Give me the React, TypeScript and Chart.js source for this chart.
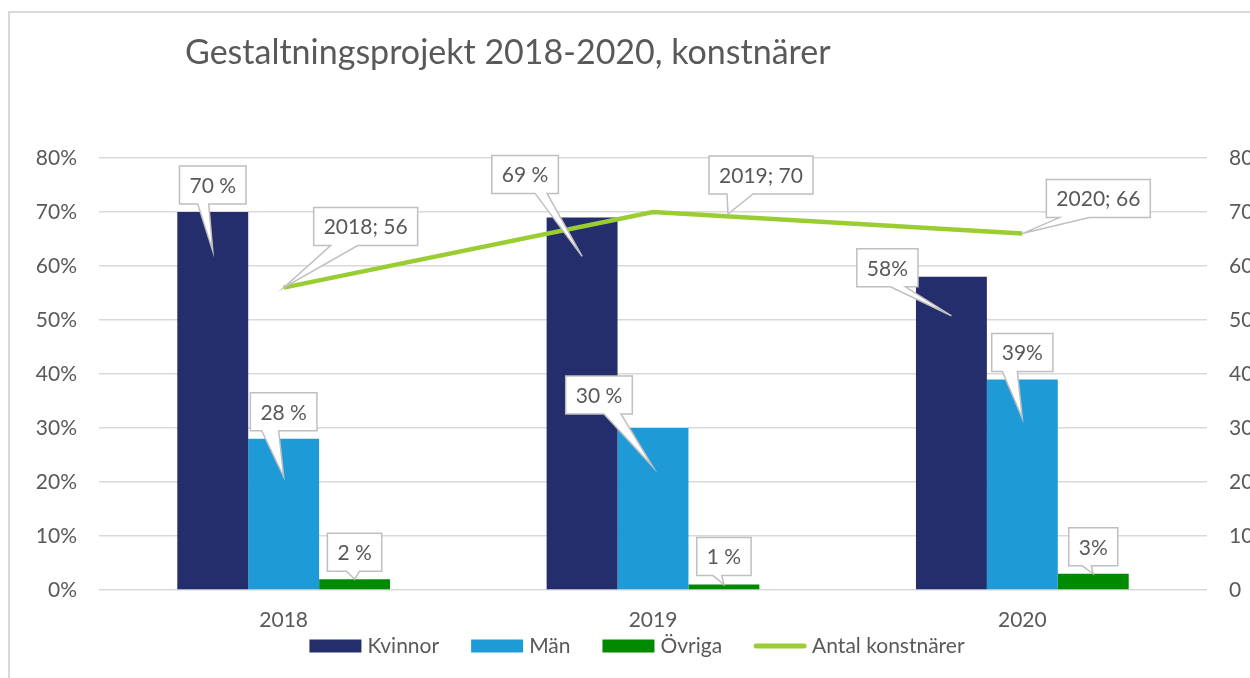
import React, { useEffect, useRef } from "react";
import { Chart, registerables } from "chart.js";

Chart.register(...registerables);

// ---------------- data ----------------
const chartTitle = "Gestaltningsprojekt 2018-2020, konstnärer";
const categories = ["2018", "2019", "2020"];
const seriesLabels = ["Kvinnor", "Män", "Övriga", "Antal konstnärer"];
const kvinnor = [70, 69, 58];
const man = [28, 30, 39];
const ovriga = [2, 1, 3];
const antalKonstnarer = [56, 70, 66];
// separator between number and "%" in the data labels, per category
const percentSeparators = [" ", " ", ""];
const axisMin = 0;
const axisMax = 80;
const axisStep = 10;

// ---------------- styles ----------------
const FONT = "Lato";
const TEXT_COLOR = "#595959";
const GRID_COLOR = "#D9D9D9";
const COLORS = ["#252E6C", "#1E9BD7", "#008A00", "#9ACD32"];
const TICK_SIZE = 21;
const LABEL_SIZE = 21;
const TITLE_SIZE = 34;
const W = 1250;
const H = 678;

// callout layout offsets (pixels) relative to each element's anchor point:
// bx,by = box centre offset; tx,ty = pointer tip offset; wl,wr = wedge base relative to box centre
type Lay = { bx: number; by: number; tx: number; ty: number; wl: number; wr: number };
const calloutLayout: Lay[][] = [
  [
    { bx: 0, by: -27, tx: 0, ty: 39, wl: -15, wr: -4 },
    { bx: -57, by: -43, tx: 0, ty: 39, wl: 10, wr: 22 },
    { bx: -64, by: -9, tx: 0, ty: 39, wl: 3, wr: 18 },
  ],
  [
    { bx: 0, by: -27, tx: 0, ty: 38, wl: -22, wr: -5 },
    { bx: -54, by: -33, tx: 0, ty: 39, wl: 5, wr: 22 },
    { bx: 0, by: -27, tx: 0, ty: 39, wl: -20, wr: -5 },
  ],
  [
    { bx: 0, by: -27, tx: 0, ty: 0, wl: -8, wr: 5 },
    { bx: 0, by: -28, tx: 0, ty: 0, wl: -11, wr: -2 },
    { bx: 0, by: -27, tx: 0, ty: 0, wl: -11, wr: -2 },
  ],
  [
    { bx: 82, by: -61, tx: 0, ty: 0, wl: -35, wr: -8 },
    { bx: 108, by: -37, tx: 75, ty: 2, wl: -34, wr: -8 },
    { bx: 76, by: -35, tx: 0, ty: 0, wl: -39, wr: -9 },
  ],
];

function labelText(di: number, i: number, v: number): string {
  if (di === 3) return `${categories[i]}; ${v}`;
  return `${v}${percentSeparators[i]}%`;
}

const frameAndTitlePlugin = {
  id: "frameAndTitle",
  beforeDraw(chart: any) {
    const ctx = chart.ctx;
    ctx.save();
    ctx.strokeStyle = GRID_COLOR;
    ctx.lineWidth = 2;
    ctx.strokeRect(9, 12, W + 200, H + 200);
    ctx.fillStyle = TEXT_COLOR;
    ctx.font = `${TITLE_SIZE}px ${FONT}`;
    ctx.textAlign = "left";
    ctx.textBaseline = "alphabetic";
    ctx.fillText(chartTitle, 185, 64);
    ctx.restore();
  },
};

const calloutPlugin = {
  id: "callouts",
  afterDatasetsDraw(chart: any) {
    const ctx = chart.ctx;
    ctx.save();
    ctx.font = `${LABEL_SIZE}px ${FONT}`;
    chart.data.datasets.forEach((ds: any, di: number) => {
      const meta = chart.getDatasetMeta(di);
      meta.data.forEach((el: any, i: number) => {
        const lay = calloutLayout[di][i];
        const text = labelText(di, i, ds.data[i]);
        const w = ctx.measureText(text).width + 20;
        const h = 38;
        const cx = el.x + lay.bx;
        const cy = el.y + lay.by;
        const l = cx - w / 2, r = cx + w / 2, t = cy - h / 2, b = cy + h / 2;
        ctx.beginPath();
        ctx.moveTo(l, t);
        ctx.lineTo(r, t);
        ctx.lineTo(r, b);
        ctx.lineTo(cx + lay.wr, b);
        ctx.lineTo(el.x + lay.tx, el.y + lay.ty);
        ctx.lineTo(cx + lay.wl, b);
        ctx.lineTo(l, b);
        ctx.closePath();
        ctx.fillStyle = "#FFFFFF";
        ctx.fill();
        ctx.strokeStyle = "#BFBFBF";
        ctx.lineWidth = 1.5;
        ctx.stroke();
        ctx.fillStyle = TEXT_COLOR;
        ctx.textAlign = "center";
        ctx.textBaseline = "middle";
        ctx.fillText(text, cx, cy + 1);
      });
    });
    ctx.restore();
  },
};

const legendPlugin = {
  id: "customLegend",
  afterDraw(chart: any) {
    const ctx = chart.ctx;
    ctx.save();
    ctx.font = `${TICK_SIZE}px ${FONT}`;
    const sw = 52, gap = 6, itemGap = 32;
    const widths = seriesLabels.map((s) => ctx.measureText(s).width);
    const total = widths.reduce((a, b) => a + b, 0) + seriesLabels.length * (sw + gap) + (seriesLabels.length - 1) * itemGap;
    let x = 637 - total / 2;
    const y = 646;
    seriesLabels.forEach((s, i) => {
      if (i === 3) {
        ctx.strokeStyle = COLORS[i];
        ctx.lineWidth = 5;
        ctx.lineCap = "round";
        ctx.beginPath();
        ctx.moveTo(x + 2, y);
        ctx.lineTo(x + sw - 2, y);
        ctx.stroke();
      } else {
        ctx.fillStyle = COLORS[i];
        ctx.fillRect(x, y - 6.5, sw, 13);
      }
      ctx.fillStyle = TEXT_COLOR;
      ctx.textAlign = "left";
      ctx.textBaseline = "middle";
      ctx.fillText(s, x + sw + gap, y);
      x += sw + gap + widths[i] + itemGap;
    });
    ctx.restore();
  },
};

export default function App() {
  const ref = useRef<HTMLCanvasElement | null>(null);
  useEffect(() => {
    if (!ref.current) return;
    const barCommon = {
      type: "bar" as const,
      categoryPercentage: 0.576,
      barPercentage: 1,
      borderWidth: 0,
      yAxisID: "y",
      order: 1,
    };
    const chart = new Chart(ref.current, {
      type: "bar",
      data: {
        labels: categories,
        datasets: [
          { ...barCommon, label: seriesLabels[0], data: kvinnor, backgroundColor: COLORS[0] },
          { ...barCommon, label: seriesLabels[1], data: man, backgroundColor: COLORS[1] },
          { ...barCommon, label: seriesLabels[2], data: ovriga, backgroundColor: COLORS[2] },
          {
            type: "line" as const,
            label: seriesLabels[3],
            data: antalKonstnarer,
            borderColor: COLORS[3],
            backgroundColor: COLORS[3],
            borderWidth: 4.5,
            pointRadius: 0,
            tension: 0,
            yAxisID: "y1",
            order: 0,
          } as any,
        ],
      },
      options: {
        responsive: false,
        animation: false,
        devicePixelRatio: 1,
        layout: { padding: { left: 0, right: 0, top: 158, bottom: 46 } },
        plugins: {
          legend: { display: false },
          title: { display: false },
          tooltip: { enabled: false },
        },
        scales: {
          x: {
            grid: { display: false, drawTicks: false },
            border: { display: false },
            ticks: { color: TEXT_COLOR, font: { family: FONT, size: TICK_SIZE }, padding: 18 },
            afterFit: (s: any) => { s.height = 42; },
          },
          y: {
            position: "left",
            min: axisMin,
            max: axisMax,
            grid: { color: GRID_COLOR, lineWidth: 1.5, drawTicks: false },
            border: { display: false },
            ticks: {
              stepSize: axisStep,
              color: TEXT_COLOR,
              font: { family: FONT, size: TICK_SIZE },
              padding: 22,
              callback: (v: any) => `${v}%`,
            },
            afterFit: (s: any) => { s.width = 99; },
          },
          y1: {
            position: "right",
            min: axisMin,
            max: axisMax,
            grid: { drawOnChartArea: false, drawTicks: false },
            border: { display: false },
            ticks: {
              stepSize: axisStep,
              color: TEXT_COLOR,
              font: { family: FONT, size: TICK_SIZE },
              padding: 22,
            },
            afterFit: (s: any) => { s.width = 43; },
          },
        },
      },
      plugins: [frameAndTitlePlugin, calloutPlugin, legendPlugin],
    });
    return () => chart.destroy();
  }, []);
  return (
    <div style={{ position: "absolute", left: 0, top: 0, width: W, height: H, background: "#fff" }}>
      <canvas ref={ref} width={W} height={H} style={{ display: "block", width: W, height: H }} />
    </div>
  );
}
